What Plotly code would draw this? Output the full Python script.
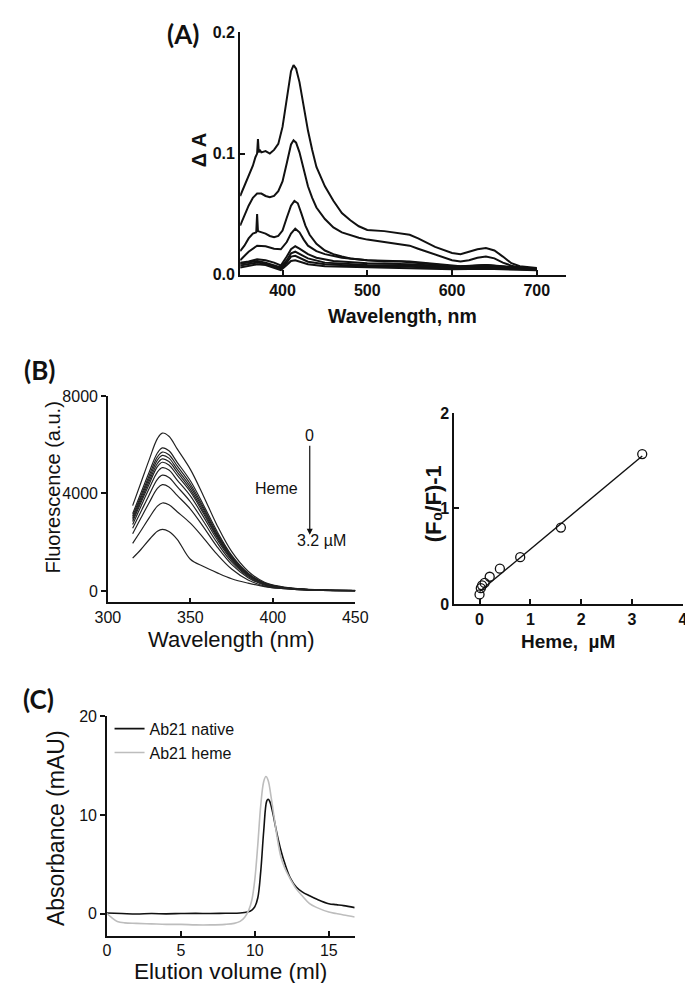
import plotly.graph_objects as go

W, H = 693, 983

# ---------------- Panel A data (difference spectra) ----------------
a_wl_1 = [350, 355, 360, 365, 368, 370, 371, 372, 373, 375, 380, 385, 390, 395, 400, 405, 410, 413, 416, 420, 425, 430, 435, 440, 450,
          460, 470, 480, 490, 500, 520, 540, 550, 560, 580, 600, 610, 620, 630, 640, 650, 660, 670, 680, 690, 700]
a_val_1 = [0.065, 0.073, 0.081, 0.090, 0.097, 0.100, 0.112, 0.101, 0.103, 0.101, 0.102, 0.100, 0.103, 0.108, 0.122, 0.146, 0.168, 0.173,
           0.170, 0.159, 0.138, 0.119, 0.103, 0.089, 0.073, 0.061, 0.051, 0.045, 0.040, 0.037, 0.036, 0.034, 0.033, 0.030, 0.023,
           0.018, 0.017, 0.019, 0.021, 0.022, 0.020, 0.015, 0.0095, 0.007, 0.006, 0.0055]
a_wl_2 = [350, 355, 360, 365, 370, 375, 380, 385, 390, 395, 400, 405, 410, 413, 416, 420, 425, 430, 435, 440, 450, 460, 470, 480, 490,
          500, 520, 540, 550, 560, 580, 600, 610, 620, 630, 640, 650, 660, 670, 680, 690, 700]
a_val_2 = [0.0405, 0.049, 0.057, 0.0635, 0.067, 0.067, 0.065, 0.064, 0.065, 0.069, 0.077, 0.092, 0.1075, 0.111, 0.109, 0.101, 0.0865,
           0.073, 0.0635, 0.0555, 0.046, 0.039, 0.035, 0.0325, 0.0305, 0.029, 0.027, 0.025, 0.024, 0.0215, 0.017, 0.012, 0.011, 0.012,
           0.014, 0.015, 0.0135, 0.010, 0.0075, 0.006, 0.0055, 0.005]
a_wl_3 = [350, 355, 360, 365, 369, 370, 371, 375, 380, 385, 390, 395, 400, 405, 410, 414, 418, 422, 427, 432, 440, 450, 460, 470, 480,
          500, 520, 540, 560, 580, 600, 610, 620, 640, 650, 660, 680, 700]
a_val_3 = [0.0195, 0.024, 0.030, 0.034, 0.035, 0.050, 0.036, 0.035, 0.034, 0.032, 0.031, 0.032, 0.0365, 0.047, 0.057, 0.061, 0.059,
           0.051, 0.0405, 0.033, 0.0255, 0.020, 0.017, 0.015, 0.0135, 0.012, 0.011, 0.011, 0.010, 0.0085, 0.007, 0.006, 0.007, 0.008,
           0.0075, 0.0065, 0.0055, 0.005]
a_wl_4 = [350, 360, 370, 375, 380, 390, 398, 405, 410, 415, 420, 425, 430, 440, 450, 470, 500, 550, 580, 610, 640, 660, 700]
a_val_4 = [0.012, 0.019, 0.024, 0.024, 0.0235, 0.0215, 0.021, 0.027, 0.034, 0.038, 0.035, 0.029, 0.024, 0.0195, 0.017, 0.014, 0.012,
           0.011, 0.009, 0.007, 0.008, 0.0068, 0.005]
a_wl_5 = [350, 360, 370, 380, 390, 398, 405, 410, 415, 420, 430, 440, 460, 500, 550, 600, 640, 700]
a_val_5 = [0.010, 0.011, 0.0127, 0.012, 0.010, 0.0076, 0.015, 0.021, 0.0235, 0.0216, 0.017, 0.014, 0.0114, 0.0095, 0.0086, 0.0068,
           0.0076, 0.0046]
a_wl_6 = [350, 360, 370, 380, 390, 398, 405, 410, 415, 420, 430, 450, 500, 550, 600, 640, 700]
a_val_6 = [0.009, 0.010, 0.0114, 0.010, 0.008, 0.006, 0.012, 0.0176, 0.019, 0.0173, 0.0135, 0.010, 0.008, 0.0076, 0.006, 0.0065, 0.0043]
a_wl_7 = [350, 360, 370, 380, 390, 398, 405, 410, 415, 420, 430, 450, 500, 550, 600, 640, 700]
a_val_7 = [0.0076, 0.0086, 0.010, 0.009, 0.007, 0.005, 0.010, 0.015, 0.0157, 0.014, 0.0108, 0.0086, 0.007, 0.0065, 0.0054, 0.006, 0.004]
a_wl_8 = [350, 360, 370, 380, 390, 398, 405, 410, 415, 420, 430, 450, 500, 550, 600, 640, 700]
a_val_8 = [0.006, 0.007, 0.0086, 0.008, 0.006, 0.0038, 0.008, 0.0114, 0.012, 0.0108, 0.0086, 0.007, 0.006, 0.0054, 0.0046, 0.0049, 0.0038]

a_series = [(a_wl_1, a_val_1), (a_wl_2, a_val_2), (a_wl_3, a_val_3), (a_wl_4, a_val_4),
            (a_wl_5, a_val_5), (a_wl_6, a_val_6), (a_wl_7, a_val_7), (a_wl_8, a_val_8)]
a_xticks = [400, 500, 600, 700]
a_yticks = [0.0, 0.1, 0.2]

# ---------------- Panel B left (fluorescence quenching) ----------------
b_wl = [315, 320, 325, 330, 333, 337, 342, 350, 358, 366, 375, 385, 395, 405, 415, 430, 450]
b_f_1 = [3500, 4440, 5380, 6250, 6480, 6350, 5830, 4990, 3890, 2720, 1620, 810, 356, 181, 97, 39, 19]
b_f_2 = [3170, 4020, 4870, 5660, 5870, 5750, 5280, 4520, 3520, 2470, 1470, 730, 320, 160, 90, 35, 18]
b_f_3 = [3080, 3900, 4730, 5500, 5700, 5590, 5130, 4390, 3420, 2390, 1430, 710, 310, 160, 85, 34, 17]
b_f_4 = [3000, 3810, 4610, 5370, 5560, 5450, 5000, 4280, 3340, 2340, 1390, 700, 305, 155, 83, 33, 17]
b_f_5 = [2930, 3710, 4500, 5230, 5420, 5310, 4880, 4170, 3250, 2280, 1360, 680, 300, 150, 80, 33, 16]
b_f_6 = [2850, 3620, 4380, 5100, 5280, 5170, 4750, 4070, 3170, 2220, 1320, 660, 290, 148, 79, 32, 16]
b_f_7 = [2730, 3470, 4200, 4880, 5060, 4960, 4550, 3900, 3040, 2130, 1270, 630, 280, 142, 76, 30, 15]
b_f_8 = [2570, 3250, 3940, 4580, 4750, 4660, 4280, 3660, 2850, 2000, 1190, 590, 260, 133, 71, 29, 14]
b_f_9 = [2350, 2990, 3620, 4210, 4360, 4270, 3920, 3360, 2620, 1830, 1090, 545, 240, 122, 65, 26, 13]
b_f_10 = [1950, 2470, 3000, 3480, 3610, 3540, 3250, 2780, 2170, 1520, 900, 450, 200, 100, 54, 22, 11]
b_f_11 = [1345, 1700, 2100, 2450, 2530, 2440, 2120, 1300, 1000, 750, 500, 320, 180, 100, 55, 20, 5]
b_series = [b_f_1, b_f_2, b_f_3, b_f_4, b_f_5, b_f_6, b_f_7, b_f_8, b_f_9, b_f_10, b_f_11]
b_xticks = [300, 350, 400, 450]
b_yticks = [0, 4000, 8000]

# ---------------- Panel B right (Stern-Volmer) ----------------
sv_heme = [0, 0.025, 0.05, 0.1, 0.2, 0.4, 0.8, 1.6, 3.2]
sv_ratio = [0.10, 0.165, 0.195, 0.22, 0.285, 0.37, 0.49, 0.80, 1.57]
sv_fit_x = [0, 3.2]
sv_fit_y = [0.13, 1.55]
sv_xticks = [0, 1, 2, 3, 4]
sv_yticks = [0, 1, 2]

# ---------------- Panel C (size exclusion) ----------------
c_native_x = [0, 1, 2, 3, 4, 5, 6, 7, 8, 9, 9.5, 9.8, 10.0, 10.2, 10.4, 10.6, 10.8, 10.9, 11.0, 11.2, 11.4, 11.6, 11.8, 12.0,
              12.4, 12.8, 13.2, 13.7, 14.2, 15.0, 15.5, 16.0, 16.75]
c_native_y = [0.05, 0.0, -0.05, 0.0, -0.03, 0.0, 0.02, 0.0, 0.03, 0.05, 0.15, 0.35, 0.7, 1.6, 4.3, 8.4, 11.4, 11.6, 11.4, 10.3,
              8.8, 7.4, 6.2, 5.2, 3.6, 2.7, 2.2, 1.8, 1.45, 1.0, 0.9, 0.8, 0.6]
c_heme_x = [0, 0.3, 0.7, 1.2, 2, 3, 4, 5, 6, 7, 8, 8.6, 9.0, 9.3, 9.6, 9.8, 10.0, 10.2, 10.4, 10.6, 10.75, 10.9, 11.1, 11.3,
            11.5, 11.75, 12.0, 12.4, 12.8, 13.2, 13.7, 14.2, 15.0, 15.5, 16.0, 16.75]
c_heme_y = [0.0, -0.4, -0.8, -0.95, -1.0, -1.05, -1.1, -1.1, -1.15, -1.15, -1.1, -1.0, -0.8, -0.4, 0.4, 1.4, 3.5, 7.0, 11.0,
            13.4, 13.9, 13.5, 11.8, 9.8, 7.8, 5.8, 4.7, 3.5, 2.5, 1.8, 1.0, 0.6, 0.15, 0.0, -0.15, -0.35]
c_names = ["Ab21 native", "Ab21 heme"]
c_xticks = [0, 5, 10, 15]
c_yticks = [0, 10, 20]


def xp(px):
    return px / W


def yp(py):
    return 1 - py / H


ARIAL = "Arial"
LABEL_FONT = "Lato"

fig = go.Figure()

# Panel A traces
for wl, val in a_series:
    fig.add_trace(go.Scatter(x=wl, y=val, mode="lines", line=dict(color="#111111", width=2),
                             xaxis="x", yaxis="y", showlegend=False, hoverinfo="skip"))

# Panel B left traces
for f in b_series:
    fig.add_trace(go.Scatter(x=b_wl, y=f, mode="lines", line=dict(color="#222222", width=1.2, shape="spline"),
                             xaxis="x2", yaxis="y2", showlegend=False, hoverinfo="skip"))

# Panel B right traces
fig.add_trace(go.Scatter(x=sv_fit_x, y=sv_fit_y, mode="lines", line=dict(color="#111111", width=1.4),
                         xaxis="x3", yaxis="y3", showlegend=False, hoverinfo="skip"))
fig.add_trace(go.Scatter(x=sv_heme, y=sv_ratio, mode="markers",
                         marker=dict(symbol="circle-open", size=9, color="#111111", line=dict(width=1.3)),
                         xaxis="x3", yaxis="y3", showlegend=False, hoverinfo="skip"))

# Panel C traces
fig.add_trace(go.Scatter(x=c_native_x, y=c_native_y, mode="lines", name=c_names[0],
                         line=dict(color="#111111", width=1.6, shape="spline"), xaxis="x4", yaxis="y4"))
fig.add_trace(go.Scatter(x=c_heme_x, y=c_heme_y, mode="lines", name=c_names[1],
                         line=dict(color="#bdbdbd", width=1.6, shape="spline"), xaxis="x4", yaxis="y4"))


def axis(domain, rng, tickvals, anchor, ticks, lw, font, fmt=None):
    d = dict(domain=domain, range=rng, tickvals=tickvals, anchor=anchor, ticks=ticks, ticklen=5,
             tickwidth=lw, tickcolor="#111111", showline=True, linecolor="#111111", linewidth=lw,
             showgrid=False, zeroline=False, mirror=False, tickfont=font, fixedrange=True)
    if fmt:
        d["tickformat"] = fmt
    return d


boldtick = dict(family=ARIAL, size=16, color="#111111", weight="bold")
regtick = dict(family=ARIAL, size=16, color="#111111")

fig.update_layout(
    width=W, height=H, autosize=False,
    margin=dict(l=0, r=0, t=0, b=0),
    paper_bgcolor="white", plot_bgcolor="white",
    xaxis=axis([xp(227.7), xp(566.7)], [350, 735], a_xticks, "y", "inside", 2, boldtick),
    yaxis=axis([yp(263.3), yp(16.7)], [0, 0.2], a_yticks, "x", "inside", 2, boldtick, fmt=".1f"),
    xaxis2=axis([xp(90.3), xp(347.3)], [300, 450], b_xticks, "y2", "inside", 1.5, regtick),
    yaxis2=axis([yp(596.7), yp(386.7)], [-470, 8000], b_yticks, "x2", "outside", 1.5, regtick),
    xaxis3=axis([xp(450), xp(687.7)], [-0.5, 4], sv_xticks, "y3", "inside", 1.5, boldtick),
    yaxis3=axis([yp(598.3), yp(404)], [0, 2], sv_yticks, "x3", "inside", 1.5, boldtick),
    xaxis4=axis([xp(89.3), xp(346.7)], [0, 16.75], c_xticks, "y4", "inside", 1.5, regtick),
    yaxis4=axis([yp(935.7), yp(712.7)], [-2.23, 20], c_yticks, "x4", "outside", 1.5, regtick),
    legend=dict(x=xp(92), y=yp(708), xanchor="left", yanchor="top", bgcolor="rgba(0,0,0,0)",
                font=dict(family=ARIAL, size=16, color="#111111"), itemwidth=30, tracegroupgap=0),
)


def ann(text, x, y, size, family=ARIAL, bold=False, angle=0):
    return dict(text=text, x=xp(x), y=yp(y), xref="paper", yref="paper", showarrow=False,
                xanchor="center", yanchor="middle", textangle=angle,
                font=dict(family=family, size=size, color="#111111", weight="bold" if bold else "normal"))


annotations = [
    ann("(A)", 168, 18, 26, LABEL_FONT, True),
    ann("(B)", 19, 360, 26, LABEL_FONT, True),
    ann("(C)", 18, 695, 26, LABEL_FONT, True),
    ann("Δ A", 185, 136.5, 20, ARIAL, True, -90),
    ann("Wavelength, nm", 396.7, 305, 19.5, ARIAL, True),
    ann("Fluorescence (a.u.)", 33, 480, 20, ARIAL, False, -90),
    ann("Wavelength (nm)", 219, 634, 22, ARIAL),
    ann("(F₀/F)-1", 429, 496, 22, ARIAL, True, -90),
    ann("Heme,  µM", 568, 637, 19, ARIAL, True),
    ann("Absorbance (mAU)", 37, 826.7, 23, ARIAL, False, -90),
    ann("Elution volume (ml)", 218, 972, 22.6, ARIAL),
    ann("Heme", 265, 481, 16, ARIAL),
    ann("3.2 µM", 312.7, 534, 16, ARIAL),
    dict(text="0", x=xp(300), y=yp(528), xref="paper", yref="paper", showarrow=True,
         ax=0, ay=-99, arrowhead=2, arrowsize=1, arrowwidth=1.2, arrowcolor="#111111",
         font=dict(family=ARIAL, size=16, color="#111111")),
]
fig.update_layout(annotations=annotations)

fig.write_html("out.html")
